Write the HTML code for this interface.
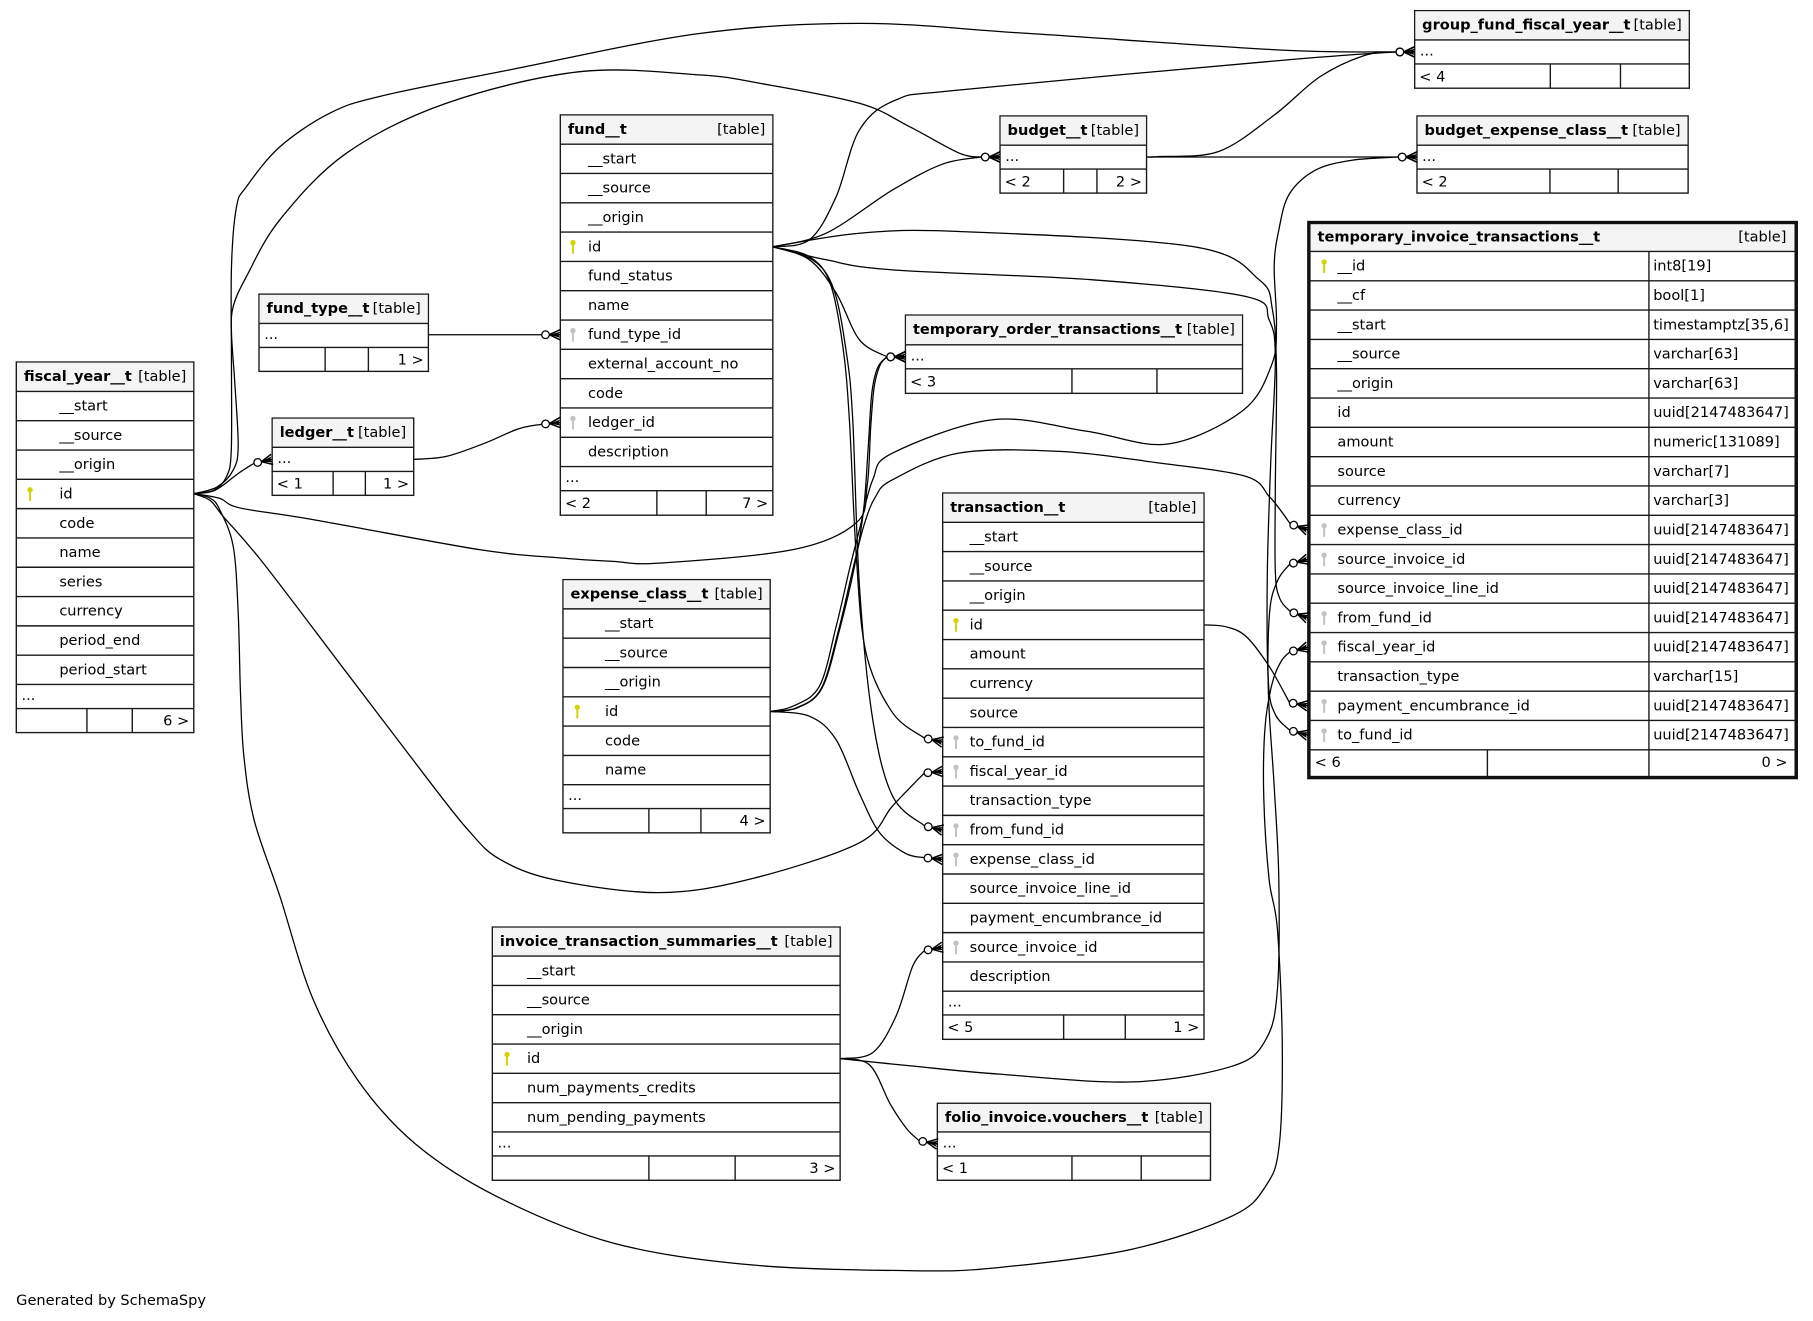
<!DOCTYPE html>
<html><head><meta charset="utf-8"><title>SchemaSpy diagram</title>
<style>
html,body{margin:0;padding:0;background:#fff;}
svg{display:block;}
text{font-family:"DejaVu Sans","Liberation Sans",sans-serif;font-size:12.6px;fill:#000;}
.b{font-weight:bold;}
.e{text-anchor:end;}
.o{fill:#fff;stroke:#1a1a1a;stroke-width:1.2;}
.h{fill:#f4f4f4;}
.ln{stroke:#1a1a1a;stroke-width:1.2;fill:none;}
.ky{fill:#d4d400;}
.kg{fill:#c2c2c2;}
#edges path{fill:none;stroke:#000;stroke-width:1.1;}
#arrows path{fill:none;stroke:#000;stroke-width:1.3;}
#arrows path.f{fill:#000;stroke:none;}
#arrows circle{fill:#fff;stroke:#000;stroke-width:1.1;}
</style></head>
<body>
<svg xmlns="http://www.w3.org/2000/svg" width="1813" height="1321" viewBox="0 0 1568 1142.5" preserveAspectRatio="none">
<rect x="0" y="0" width="1568" height="1142.5" fill="#fff"/>
<g id="edges"></g>

<!-- fiscal_year__t -->
<g>
<rect class="o" x="14.1" y="313.1" width="153.5" height="320.5"/>
<rect class="h" x="14.7" y="313.7" width="152.3" height="24.8"/>
<path class="ln" d="M14.1 338.5H167.6M14.1 363.85H167.6M14.1 389.2H167.6M14.1 414.55H167.6M14.1 439.9H167.6M14.1 465.25H167.6M14.1 490.6H167.6M14.1 515.95H167.6M14.1 541.3H167.6M14.1 566.65H167.6M14.1 592H167.6M14.1 612.8H167.6M75.2 612.8V633.6M114.4 612.8V633.6"/>
<text class="b" x="20.6" y="329.4">fiscal_year__t</text><text class="e" x="161.1" y="329.4">[table]</text>
<text x="51.3" y="355.1">__start</text>
<text x="51.3" y="380.45">__source</text>
<text x="51.3" y="405.8">__origin</text>
<text x="51.3" y="431.15">id</text>
<text x="51.3" y="456.5">code</text>
<text x="51.3" y="481.85">name</text>
<text x="51.3" y="507.2">series</text>
<text x="51.3" y="532.55">currency</text>
<text x="51.3" y="557.9">period_end</text>
<text x="51.3" y="583.25">period_start</text>
<text x="18.6" y="605.5">...</text>
<text class="e" x="163.6" y="627.6">6 &gt;</text>
<g class="ky" transform="translate(26,427.2)"><circle cx="0" cy="-3.6" r="2.3"/><rect x="-0.85" y="-3.6" width="1.7" height="9.6"/></g>
</g>

<!-- fund_type__t -->
<g>
<rect class="o" x="224" y="254.4" width="146.5" height="66.8"/>
<rect class="h" x="224.6" y="255" width="145.3" height="24.7"/>
<path class="ln" d="M224 279.7H370.5M224 300.5H370.5M281.2 300.5V321.2M318.6 300.5V321.2"/>
<text class="b" x="230.5" y="270.7">fund_type__t</text><text class="e" x="364" y="270.7">[table]</text>
<text x="228.5" y="293.2">...</text>
<text class="e" x="366.5" y="315.3">1 &gt;</text>
</g>

<!-- ledger__t -->
<g>
<rect class="o" x="235.4" y="361.6" width="122.4" height="66.8"/>
<rect class="h" x="236" y="362.2" width="121.2" height="24.7"/>
<path class="ln" d="M235.4 386.9H357.8M235.4 407.7H357.8M288.1 407.7V428.4M316 407.7V428.4"/>
<text class="b" x="241.9" y="377.9">ledger__t</text><text class="e" x="351.3" y="377.9">[table]</text>
<text x="239.9" y="400.4">...</text>
<text x="239.4" y="422.5">&lt; 1</text>
<text class="e" x="353.8" y="422.5">1 &gt;</text>
</g>

<!-- fund__t -->
<g>
<rect class="o" x="484.6" y="99.4" width="183.8" height="346.2"/>
<rect class="h" x="485.2" y="100" width="182.6" height="24.7"/>
<path class="ln" d="M484.6 124.7H668.4M484.6 150.05H668.4M484.6 175.4H668.4M484.6 200.75H668.4M484.6 226.1H668.4M484.6 251.45H668.4M484.6 276.8H668.4M484.6 302.15H668.4M484.6 327.5H668.4M484.6 352.85H668.4M484.6 378.2H668.4M484.6 403.55H668.4M484.6 424.4H668.4M568.1 424.4V445.6M610.8 424.4V445.6"/>
<text class="b" x="491.1" y="115.7">fund__t</text><text class="e" x="661.9" y="115.7">[table]</text>
<text x="508.5" y="141.3">__start</text>
<text x="508.5" y="166.65">__source</text>
<text x="508.5" y="192">__origin</text>
<text x="508.5" y="217.35">id</text>
<text x="508.5" y="242.7">fund_status</text>
<text x="508.5" y="268.05">name</text>
<text x="508.5" y="293.4">fund_type_id</text>
<text x="508.5" y="318.75">external_account_no</text>
<text x="508.5" y="344.1">code</text>
<text x="508.5" y="369.45">ledger_id</text>
<text x="508.5" y="394.8">description</text>
<text x="489" y="417">...</text>
<text x="488.6" y="439.2">&lt; 2</text>
<text class="e" x="664.4" y="439.2">7 &gt;</text>
<g class="ky" transform="translate(495.5,213.4)"><circle cx="0" cy="-3.6" r="2.3"/><rect x="-0.85" y="-3.6" width="1.7" height="9.6"/></g>
<g class="kg" transform="translate(495.5,289.5)"><circle cx="0" cy="-3.6" r="2.3"/><rect x="-0.85" y="-3.6" width="1.7" height="9.6"/></g>
<g class="kg" transform="translate(495.5,365.5)"><circle cx="0" cy="-3.6" r="2.3"/><rect x="-0.85" y="-3.6" width="1.7" height="9.6"/></g>
</g>

<!-- budget__t -->
<g>
<rect class="o" x="864.9" y="100.3" width="126.7" height="66.7"/>
<rect class="h" x="865.5" y="100.9" width="125.5" height="24.7"/>
<path class="ln" d="M864.9 125.6H991.6M864.9 146.2H991.6M919.9 146.2V167M948.7 146.2V167"/>
<text class="b" x="871.4" y="116.6">budget__t</text><text class="e" x="985.1" y="116.6">[table]</text>
<text x="869.4" y="139.1">...</text>
<text x="868.9" y="161.1">&lt; 2</text>
<text class="e" x="987.6" y="161.1">2 &gt;</text>
</g>

<!-- group_fund_fiscal_year__t -->
<g>
<rect class="o" x="1223.5" y="9.2" width="237.5" height="67.1"/>
<rect class="h" x="1224.1" y="9.8" width="236.3" height="24.7"/>
<path class="ln" d="M1223.5 34.5H1461M1223.5 55.3H1461M1340.8 55.3V76.3M1401.5 55.3V76.3"/>
<text class="b" x="1230" y="25.5">group_fund_fiscal_year__t</text><text class="e" x="1454.5" y="25.5">[table]</text>
<text x="1228" y="48">...</text>
<text x="1227.5" y="70.4">&lt; 4</text>
</g>

<!-- budget_expense_class__t -->
<g>
<rect class="o" x="1225.5" y="100.3" width="234.5" height="66.7"/>
<rect class="h" x="1226.1" y="100.9" width="233.3" height="24.7"/>
<path class="ln" d="M1225.5 125.6H1460M1225.5 146.2H1460M1340.5 146.2V167M1399.5 146.2V167"/>
<text class="b" x="1232" y="116.6">budget_expense_class__t</text><text class="e" x="1453.5" y="116.6">[table]</text>
<text x="1230" y="139.1">...</text>
<text x="1229.5" y="161.1">&lt; 2</text>
</g>

<!-- temporary_invoice_transactions__t -->
<g>
<rect x="1132" y="192.5" width="421.5" height="480" fill="#fff" stroke="#111" stroke-width="3"/>
<rect class="h" x="1133.5" y="194" width="418.5" height="23.5"/>
<path class="ln" d="M1132 217.5H1553.5M1132 242.85H1553.5M1132 268.2H1553.5M1132 293.55H1553.5M1132 318.9H1553.5M1132 344.25H1553.5M1132 369.6H1553.5M1132 394.95H1553.5M1132 420.3H1553.5M1132 445.65H1553.5M1132 471H1553.5M1132 496.35H1553.5M1132 521.7H1553.5M1132 547.05H1553.5M1132 572.4H1553.5M1132 597.75H1553.5M1132 623.1H1553.5M1132 648.45H1553.5M1426.1 217.5V672.5M1286.4 648.45V672.5"/>
<text class="b" x="1139.5" y="208.8">temporary_invoice_transactions__t</text><text class="e" x="1545" y="208.8">[table]</text>
<text x="1156.7" y="234.1">__id</text><text x="1429.8" y="234.1">int8[19]</text>
<text x="1156.7" y="259.45">__cf</text><text x="1429.8" y="259.45">bool[1]</text>
<text x="1156.7" y="284.8">__start</text><text x="1429.8" y="284.8">timestamptz[35,6]</text>
<text x="1156.7" y="310.15">__source</text><text x="1429.8" y="310.15">varchar[63]</text>
<text x="1156.7" y="335.5">__origin</text><text x="1429.8" y="335.5">varchar[63]</text>
<text x="1156.7" y="360.85">id</text><text x="1429.8" y="360.85">uuid[2147483647]</text>
<text x="1156.7" y="386.2">amount</text><text x="1429.8" y="386.2">numeric[131089]</text>
<text x="1156.7" y="411.55">source</text><text x="1429.8" y="411.55">varchar[7]</text>
<text x="1156.7" y="436.9">currency</text><text x="1429.8" y="436.9">varchar[3]</text>
<text x="1156.7" y="462.25">expense_class_id</text><text x="1429.8" y="462.25">uuid[2147483647]</text>
<text x="1156.7" y="487.6">source_invoice_id</text><text x="1429.8" y="487.6">uuid[2147483647]</text>
<text x="1156.7" y="512.95">source_invoice_line_id</text><text x="1429.8" y="512.95">uuid[2147483647]</text>
<text x="1156.7" y="538.3">from_fund_id</text><text x="1429.8" y="538.3">uuid[2147483647]</text>
<text x="1156.7" y="563.65">fiscal_year_id</text><text x="1429.8" y="563.65">uuid[2147483647]</text>
<text x="1156.7" y="589">transaction_type</text><text x="1429.8" y="589">varchar[15]</text>
<text x="1156.7" y="614.35">payment_encumbrance_id</text><text x="1429.8" y="614.35">uuid[2147483647]</text>
<text x="1156.7" y="639.7">to_fund_id</text><text x="1429.8" y="639.7">uuid[2147483647]</text>
<text x="1137" y="663.3">&lt; 6</text>
<text class="e" x="1546" y="663.3">0 &gt;</text>
<g class="ky" transform="translate(1145.2,230.2)"><circle cx="0" cy="-3.6" r="2.3"/><rect x="-0.85" y="-3.6" width="1.7" height="9.6"/></g>
<g class="kg" transform="translate(1145.2,458.3)"><circle cx="0" cy="-3.6" r="2.3"/><rect x="-0.85" y="-3.6" width="1.7" height="9.6"/></g>
<g class="kg" transform="translate(1145.2,483.7)"><circle cx="0" cy="-3.6" r="2.3"/><rect x="-0.85" y="-3.6" width="1.7" height="9.6"/></g>
<g class="kg" transform="translate(1145.2,534.4)"><circle cx="0" cy="-3.6" r="2.3"/><rect x="-0.85" y="-3.6" width="1.7" height="9.6"/></g>
<g class="kg" transform="translate(1145.2,559.7)"><circle cx="0" cy="-3.6" r="2.3"/><rect x="-0.85" y="-3.6" width="1.7" height="9.6"/></g>
<g class="kg" transform="translate(1145.2,610.4)"><circle cx="0" cy="-3.6" r="2.3"/><rect x="-0.85" y="-3.6" width="1.7" height="9.6"/></g>
<g class="kg" transform="translate(1145.2,635.8)"><circle cx="0" cy="-3.6" r="2.3"/><rect x="-0.85" y="-3.6" width="1.7" height="9.6"/></g>
</g>

<!-- temporary_order_transactions__t -->
<g>
<rect class="o" x="783.1" y="272.5" width="291.5" height="67.7"/>
<rect class="h" x="783.7" y="273.1" width="290.3" height="25.1"/>
<path class="ln" d="M783.1 298.2H1074.6M783.1 319H1074.6M927.1 319V340.2M1000.6 319V340.2"/>
<text class="b" x="789.6" y="288.8">temporary_order_transactions__t</text><text class="e" x="1068.1" y="288.8">[table]</text>
<text x="787.6" y="311.7">...</text>
<text x="787.1" y="334.3">&lt; 3</text>
</g>

<!-- transaction__t -->
<g>
<rect class="o" x="815.3" y="426.4" width="226" height="472.5"/>
<rect class="h" x="815.9" y="427" width="224.8" height="24.7"/>
<path class="ln" d="M815.3 451.7H1041.3M815.3 477.05H1041.3M815.3 502.4H1041.3M815.3 527.75H1041.3M815.3 553.1H1041.3M815.3 578.45H1041.3M815.3 603.8H1041.3M815.3 629.15H1041.3M815.3 654.5H1041.3M815.3 679.85H1041.3M815.3 705.2H1041.3M815.3 730.55H1041.3M815.3 755.9H1041.3M815.3 781.25H1041.3M815.3 806.6H1041.3M815.3 831.95H1041.3M815.3 857.3H1041.3M815.3 877.8H1041.3M919.9 877.8V898.9M973.2 877.8V898.9"/>
<text class="b" x="821.8" y="442.7">transaction__t</text><text class="e" x="1034.8" y="442.7">[table]</text>
<text x="838.6" y="468.3">__start</text>
<text x="838.6" y="493.65">__source</text>
<text x="838.6" y="519">__origin</text>
<text x="838.6" y="544.35">id</text>
<text x="838.6" y="569.7">amount</text>
<text x="838.6" y="595.05">currency</text>
<text x="838.6" y="620.4">source</text>
<text x="838.6" y="645.75">to_fund_id</text>
<text x="838.6" y="671.1">fiscal_year_id</text>
<text x="838.6" y="696.45">transaction_type</text>
<text x="838.6" y="721.8">from_fund_id</text>
<text x="838.6" y="747.15">expense_class_id</text>
<text x="838.6" y="772.5">source_invoice_line_id</text>
<text x="838.6" y="797.85">payment_encumbrance_id</text>
<text x="838.6" y="823.2">source_invoice_id</text>
<text x="838.6" y="848.55">description</text>
<text x="819.8" y="870.5">...</text>
<text x="819.3" y="892.6">&lt; 5</text>
<text class="e" x="1037.3" y="892.6">1 &gt;</text>
<g class="ky" transform="translate(826.8,540.4)"><circle cx="0" cy="-3.6" r="2.3"/><rect x="-0.85" y="-3.6" width="1.7" height="9.6"/></g>
<g class="kg" transform="translate(826.8,641.8)"><circle cx="0" cy="-3.6" r="2.3"/><rect x="-0.85" y="-3.6" width="1.7" height="9.6"/></g>
<g class="kg" transform="translate(826.8,667.2)"><circle cx="0" cy="-3.6" r="2.3"/><rect x="-0.85" y="-3.6" width="1.7" height="9.6"/></g>
<g class="kg" transform="translate(826.8,717.9)"><circle cx="0" cy="-3.6" r="2.3"/><rect x="-0.85" y="-3.6" width="1.7" height="9.6"/></g>
<g class="kg" transform="translate(826.8,743.2)"><circle cx="0" cy="-3.6" r="2.3"/><rect x="-0.85" y="-3.6" width="1.7" height="9.6"/></g>
<g class="kg" transform="translate(826.8,819.3)"><circle cx="0" cy="-3.6" r="2.3"/><rect x="-0.85" y="-3.6" width="1.7" height="9.6"/></g>
</g>

<!-- expense_class__t -->
<g>
<rect class="o" x="486.9" y="501.3" width="179.2" height="219"/>
<rect class="h" x="487.5" y="501.9" width="178" height="24.7"/>
<path class="ln" d="M486.9 526.6H666.1M486.9 551.95H666.1M486.9 577.3H666.1M486.9 602.65H666.1M486.9 628H666.1M486.9 653.35H666.1M486.9 678.7H666.1M486.9 699.3H666.1M561.2 699.3V720.3M606.2 699.3V720.3"/>
<text class="b" x="493.4" y="517.6">expense_class__t</text><text class="e" x="659.6" y="517.6">[table]</text>
<text x="523.2" y="543.2">__start</text>
<text x="523.2" y="568.55">__source</text>
<text x="523.2" y="593.9">__origin</text>
<text x="523.2" y="619.25">id</text>
<text x="523.2" y="644.6">code</text>
<text x="523.2" y="669.95">name</text>
<text x="491.4" y="691.9">...</text>
<text class="e" x="662.1" y="714.1">4 &gt;</text>
<g class="ky" transform="translate(499.3,615.3)"><circle cx="0" cy="-3.6" r="2.3"/><rect x="-0.85" y="-3.6" width="1.7" height="9.6"/></g>
</g>

<!-- invoice_transaction_summaries__t -->
<g>
<rect class="o" x="425.8" y="801.8" width="300.8" height="219"/>
<rect class="h" x="426.4" y="802.4" width="299.6" height="24.5"/>
<path class="ln" d="M425.8 826.9H726.6M425.8 852.25H726.6M425.8 877.6H726.6M425.8 902.95H726.6M425.8 928.3H726.6M425.8 953.65H726.6M425.8 979H726.6M425.8 999.7H726.6M561.2 999.7V1020.8M635.8 999.7V1020.8"/>
<text class="b" x="432.3" y="818.1">invoice_transaction_summaries__t</text><text class="e" x="720.1" y="818.1">[table]</text>
<text x="455.8" y="843.5">__start</text>
<text x="455.8" y="868.85">__source</text>
<text x="455.8" y="894.2">__origin</text>
<text x="455.8" y="919.55">id</text>
<text x="455.8" y="944.9">num_payments_credits</text>
<text x="455.8" y="970.25">num_pending_payments</text>
<text x="430.3" y="992.4">...</text>
<text class="e" x="722.6" y="1014.5">3 &gt;</text>
<g class="ky" transform="translate(438.5,915.6)"><circle cx="0" cy="-3.6" r="2.3"/><rect x="-0.85" y="-3.6" width="1.7" height="9.6"/></g>
</g>

<!-- folio_invoice.vouchers__t -->
<g>
<rect class="o" x="810.7" y="954.2" width="236.2" height="66.6"/>
<rect class="h" x="811.3" y="954.8" width="235" height="24.2"/>
<path class="ln" d="M810.7 979H1046.9M810.7 999.7H1046.9M927.1 999.7V1020.8M987 999.7V1020.8"/>
<text class="b" x="817.2" y="970.5">folio_invoice.vouchers__t</text><text class="e" x="1040.4" y="970.5">[table]</text>
<text x="815.2" y="992.4">...</text>
<text x="814.7" y="1014.5">&lt; 1</text>
</g>

<g id="arrows"></g>

<text x="14" y="1128.5">Generated by SchemaSpy</text>
</svg>
<script>
(function(){
var NS="http://www.w3.org/2000/svg";
var eg=document.getElementById("edges"), ag=document.getElementById("arrows");
var F=[167.6,427], FU=[668.4,213.4], X=[666.1,615.3], S=[726.6,915.6];
var E=[
 {p:[F,[185,424],[196,412],[200,390],[200.2,317],[200.2,230.5],[204.6,178.6],[213.2,161.4],[242,127],[285,98],[330,83],[443,60],[605,29],[743.3,20.2],[887.4,28.8],[1106.3,43.2]],a:[1223.5,44.9,0]},
 {p:[F,[188,421],[202,406],[206,385],[203,330],[200.2,288],[201.7,265],[213.2,239.1],[242,190.1],[299.6,132.5],[386,89.3],[501.3,62],[605,64.8],[656.9,72],[743.3,89.3],[786.5,109.5],[829.7,132.5]],a:[864.9,135.8,0]},
 {p:[F,[186,424],[206,409.5]],a:[235.4,397.3,-12]},
 {p:[F,[190,431],[207.4,439.3],[270.8,449.4],[414.8,475.4],[484,482.5],[530,485.5],[570.4,487],[685.7,475.4],[740.4,452.3],[750,420],[753,370],[756,335],[761,316]],a:[783.1,308.6,0]},
 {p:[F,[182,433],[193,446.6],[227.6,486.9],[300,582],[370,674],[405,718],[432,743],[480,761],[570,772],[650,760],[743.3,728.9],[772,697]],a:[815.3,667.2,-5]},
 {p:[F,[182,431],[190,440.8],[201.7,472.5],[206,530],[208,600],[211,655],[220,710],[242,775],[270.8,864.3],[310,935],[360,990],[430,1035],[530,1075],[650,1094],[790,1099],[864.3,1096.2],[979.5,1080.3],[1066,1051.5],[1094.8,1025.6],[1106.3,991],[1109,904.6],[1104.8,803.8],[1097.6,760.6],[1093,690],[1094,630],[1100,592],[1108,572]],a:[1131,559.7,-15]},
 {p:[FU,[700.1,207.4],[723.2,170],[743.3,112.4],[775,86.4],[829.7,77.8],[1106.3,52.4]],a:[1223.5,44.9,0]},
 {p:[FU,[714.5,201.7],[772.1,164.2],[815,142]],a:[864.9,135.8,0]},
 {p:[FU,[700.1,224.7],[723.2,253.5],[743.3,293.9]],a:[783.1,308.6,0]},
 {p:[FU,[700,222],[718,245],[729,300],[734.6,363],[740.4,478.2],[749,564.7],[772,616.5]],a:[815.3,641.8,12]},
 {p:[FU,[703,225],[721,250],[732,305],[737.5,363],[743.3,507],[754.8,622.3],[772,688.6]],a:[815.3,717.9,13]},
 {p:[FU,[743.3,201.7],[829.7,200.2],[1031.4,213.2],[1089,242],[1100.5,268],[1104,320],[1103,420],[1103,495],[1107,518]],a:[1131,534.4,20]},
 {p:[FU,[714.5,224.7],[772,233.4],[945,242],[1077.5,256.4],[1097.6,276.6],[1103,310],[1099,400],[1096,500],[1097,590],[1103,618]],a:[1131,635.8,15]},
 {p:[X,[690,612],[711,595],[726,545],[739,490],[747,440],[751,385],[754,340],[759,318]],a:[783.1,308.6,0]},
 {p:[X,[685.7,610.8],[708.7,593.5],[723.2,541.6],[734.6,492.7],[743.3,458],[754.8,414.9],[772,391.8],[858.5,363],[940,373],[1010,384],[1075,355],[1100,315],[1104,280],[1102,230],[1106,199],[1115,168],[1138,147],[1170,138.5]],a:[1225.5,135.8,0]},
 {p:[X,[688,612.5],[710,596],[725,546],[737,495],[747,455],[757,430],[772,414.9],[829.7,391.8],[916.2,390.4],[1002.6,400.4],[1077.5,412],[1097.6,429.3],[1108,442]],a:[1131,458.3,19]},
 {p:[X,[700,619.4],[723,639.6],[743,685.6],[760.6,720],[783,738]],a:[815.3,743.2,5]},
 {p:[S,[754.8,910.4],[775,878.7],[789.4,835.5]],a:[815.3,819.3,-10]},
 {p:[S,[752,921],[770,955],[784,976]],a:[810.7,989.4,10]},
 {p:[S,[789,922],[864.3,929],[979.5,935.7],[1066,922],[1094.8,899],[1104.8,855.6],[1106,760.6],[1102,680],[1097,600],[1098,530],[1105,502]],a:[1131,483.7,-15]},
 {p:[[1041.3,540.4],[1060,542],[1077.5,550.3],[1097.6,576.2]],a:[1131,610.4,10]},
 {p:[[370.5,289.5]],a:[484.6,289.5,0]},
 {p:[[357.8,397.3],[386,394.7],[420,383],[448,371]],a:[484.6,365.5,-5]},
 {p:[[991.6,135.8],[1002.6,135.4],[1054,131],[1101.7,99.8],[1141.4,66.5],[1180,48]],a:[1223.5,44.9,0]},
 {p:[[991.6,135.8]],a:[1225.5,135.8,0]}
];
function cr(p){
 var d="M"+p[0][0]+","+p[0][1];
 if(p.length==2){return d+"L"+p[1][0]+","+p[1][1];}
 for(var i=0;i<p.length-1;i++){
  var p0=p[i-1]||p[i],p1=p[i],p2=p[i+1],p3=p[i+2]||p2;
  var c1x=p1[0]+(p2[0]-p0[0])/6,c1y=p1[1]+(p2[1]-p0[1])/6;
  var c2x=p2[0]-(p3[0]-p1[0])/6,c2y=p2[1]-(p3[1]-p1[1])/6;
  d+="C"+c1x.toFixed(2)+","+c1y.toFixed(2)+" "+c2x.toFixed(2)+","+c2y.toFixed(2)+" "+p2[0].toFixed(2)+","+p2[1].toFixed(2);
 }
 return d;
}
E.forEach(function(e){
 var a=e.a, r=a[2]*Math.PI/180;
 var end=[a[0]-16*Math.cos(r), a[1]-16*Math.sin(r)];
 var pts=e.p.concat([end]);
 var el=document.createElementNS(NS,"path");
 el.setAttribute("d",cr(pts));
 eg.appendChild(el);
 var g=document.createElementNS(NS,"g");
 g.setAttribute("transform","translate("+a[0]+","+a[1]+") rotate("+a[2]+")");
 var pf=document.createElementNS(NS,"path");
 pf.setAttribute("class","f");
 pf.setAttribute("d","M-9.5,0L0,-2.6L-2,0L0,2.6Z");
 g.appendChild(pf);
 var pp=document.createElementNS(NS,"path");
 pp.setAttribute("d","M-9.5,0L0,-4.5M-9.5,0L0,0M-9.5,0L0,4.5");
 g.appendChild(pp);
 var c=document.createElementNS(NS,"circle");
 c.setAttribute("cx","-12.8");c.setAttribute("cy","0");c.setAttribute("r","3.3");
 g.appendChild(c);
 ag.appendChild(g);
});
})();
</script>
</body></html>
